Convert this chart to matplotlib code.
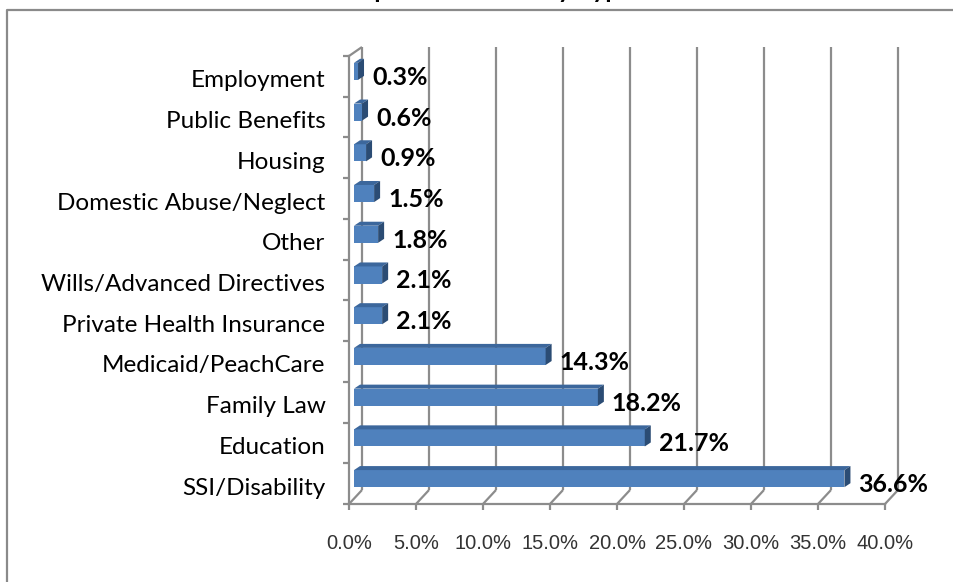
import matplotlib
matplotlib.use("Agg")
import matplotlib.pyplot as plt
from matplotlib.lines import Line2D
from matplotlib.patches import Polygon
from matplotlib.transforms import IdentityTransform, ScaledTranslation, offset_copy

# Share of dependent cases by type (percent)
categories = [
    "SSI/Disability",
    "Education",
    "Family Law",
    "Medicaid/PeachCare",
    "Private Health Insurance",
    "Wills/Advanced Directives",
    "Other",
    "Domestic Abuse/Neglect",
    "Housing",
    "Public Benefits",
    "Employment",
]
values = [36.6, 21.7, 18.2, 14.3, 2.1, 2.1, 1.8, 1.5, 0.9, 0.6, 0.3]
x_ticks = [0, 5, 10, 15, 20, 25, 30, 35, 40]
x_tick_labels = ["0.0%", "5.0%", "10.0%", "15.0%", "20.0%", "25.0%", "30.0%", "35.0%", "40.0%"]
title = "Dependent Cases by Type"

W, H = 954, 582
fig = plt.figure(figsize=(W / 100, H / 100), dpi=100)
fig.patch.set_facecolor("white")

# front plane of the 3-D frame
ax = fig.add_axes([349 / W, (H - 504) / H, (885 - 349) / W, (504 - 56) / H])
ax.set_xlim(0, 40)
ax.set_ylim(-0.5, len(categories) - 0.5)
ax.patch.set_visible(False)

GRID = "#8c8c8c"
FRONT = "#4f81bd"
TOP = "#3c679c"
SIDE = "#2b4c74"
LABEL_FONT = ["Lato", "DejaVu Sans"]

# depth offsets (pixels): back wall, bar front plane, bar depth
BACK_DX, BACK_DY_BOT, BACK_DY_TOP = 13, 14, 9
BAR_DX, BAR_DY = 5, 5
DEPTH_DX, DEPTH_DY = 6, 4


def px(x, y, dx=0.0, dy=0.0):
    X, Y = ax.transData.transform((x, y))
    return (X + dx, Y + dy)


def seg(p0, p1, z=0.5):
    ln = Line2D([p0[0], p1[0]], [p0[1], p1[1]], color=GRID, lw=1.6,
                transform=IdentityTransform(), clip_on=False, zorder=z,
                solid_capstyle="butt")
    ax.add_line(ln)


y_lo, y_hi = -0.5, len(categories) - 0.5

# back wall gridlines and floor diagonals
for v in x_ticks:
    seg(px(v, y_lo, BACK_DX, BACK_DY_BOT), px(v, y_hi, BACK_DX, BACK_DY_TOP))
    seg(px(v, y_lo), px(v, y_lo, BACK_DX, BACK_DY_BOT))
# side wall top edge
seg(px(0, y_hi), px(0, y_hi, BACK_DX, BACK_DY_TOP))

# spines for the front edges
for s in ["top", "right"]:
    ax.spines[s].set_visible(False)
for s in ["left", "bottom"]:
    ax.spines[s].set_color(GRID)
    ax.spines[s].set_linewidth(1.6)

# bars: front faces
ypos = list(range(len(categories)))
h = 0.42
bar_tr = offset_copy(ax.transData, fig=fig, x=BAR_DX, y=BAR_DY, units="dots")
ax.barh(ypos, values, height=h, left=0, color=FRONT, edgecolor="none",
        transform=bar_tr, zorder=3, clip_on=False)

# bars: top and end faces, plus value labels
for i, v in zip(ypos, values):
    top = [px(0, i + h / 2, BAR_DX, BAR_DY), px(v, i + h / 2, BAR_DX, BAR_DY),
           px(v, i + h / 2, BAR_DX + DEPTH_DX, BAR_DY + DEPTH_DY),
           px(0, i + h / 2, BAR_DX + DEPTH_DX, BAR_DY + DEPTH_DY)]
    end = [px(v, i - h / 2, BAR_DX, BAR_DY), px(v, i + h / 2, BAR_DX, BAR_DY),
           px(v, i + h / 2, BAR_DX + DEPTH_DX, BAR_DY + DEPTH_DY),
           px(v, i - h / 2, BAR_DX + DEPTH_DX, BAR_DY + DEPTH_DY)]
    ax.add_patch(Polygon(top, closed=True, facecolor=TOP, edgecolor="none",
                         transform=IdentityTransform(), clip_on=False, zorder=3))
    ax.add_patch(Polygon(end, closed=True, facecolor=SIDE, edgecolor="none",
                         transform=IdentityTransform(), clip_on=False, zorder=3))
    ax.annotate(f"{v:.1f}%", xy=(v, i), xytext=(19, -1), textcoords="offset pixels",
                ha="left", va="center", fontsize=18, fontweight="bold",
                family=LABEL_FONT, color="black", zorder=4,
                annotation_clip=False)

# category labels at centres, tick marks at category boundaries
ax.set_yticks(ypos)
ax.set_yticklabels(categories, family=LABEL_FONT, fontsize=17.5)
ax.tick_params(axis="y", which="major", length=0, pad=17)
ax.set_yticks([k - 0.5 for k in range(len(categories) + 1)], minor=True)
ax.tick_params(axis="y", which="minor", length=4.5, width=1.6, color=GRID, direction="out")
shift_down = ScaledTranslation(0, -2.5 / 100, fig.dpi_scale_trans)
for lbl in ax.get_yticklabels():
    lbl.set_transform(lbl.get_transform() + shift_down)

ax.set_xticks(x_ticks)
ax.set_xticklabels(x_tick_labels, family=["Liberation Sans", "DejaVu Sans"],
                   fontsize=14.5, color="#333333")
ax.tick_params(axis="x", length=4.5, width=1.6, color=GRID, direction="out", pad=17)

# chart frame and title
fig.add_artist(Line2D([7 / W, 7 / W, 1], [0, 1 - 10 / H, 1 - 10 / H],
                      transform=fig.transFigure, color="#8a8a8a", lw=1.6))
fig.text(487 / W, 1 + 2 / H, title, ha="center", va="baseline", fontsize=18,
         fontweight="bold", family=LABEL_FONT)

fig.savefig("out.png", dpi=100, facecolor="white")
